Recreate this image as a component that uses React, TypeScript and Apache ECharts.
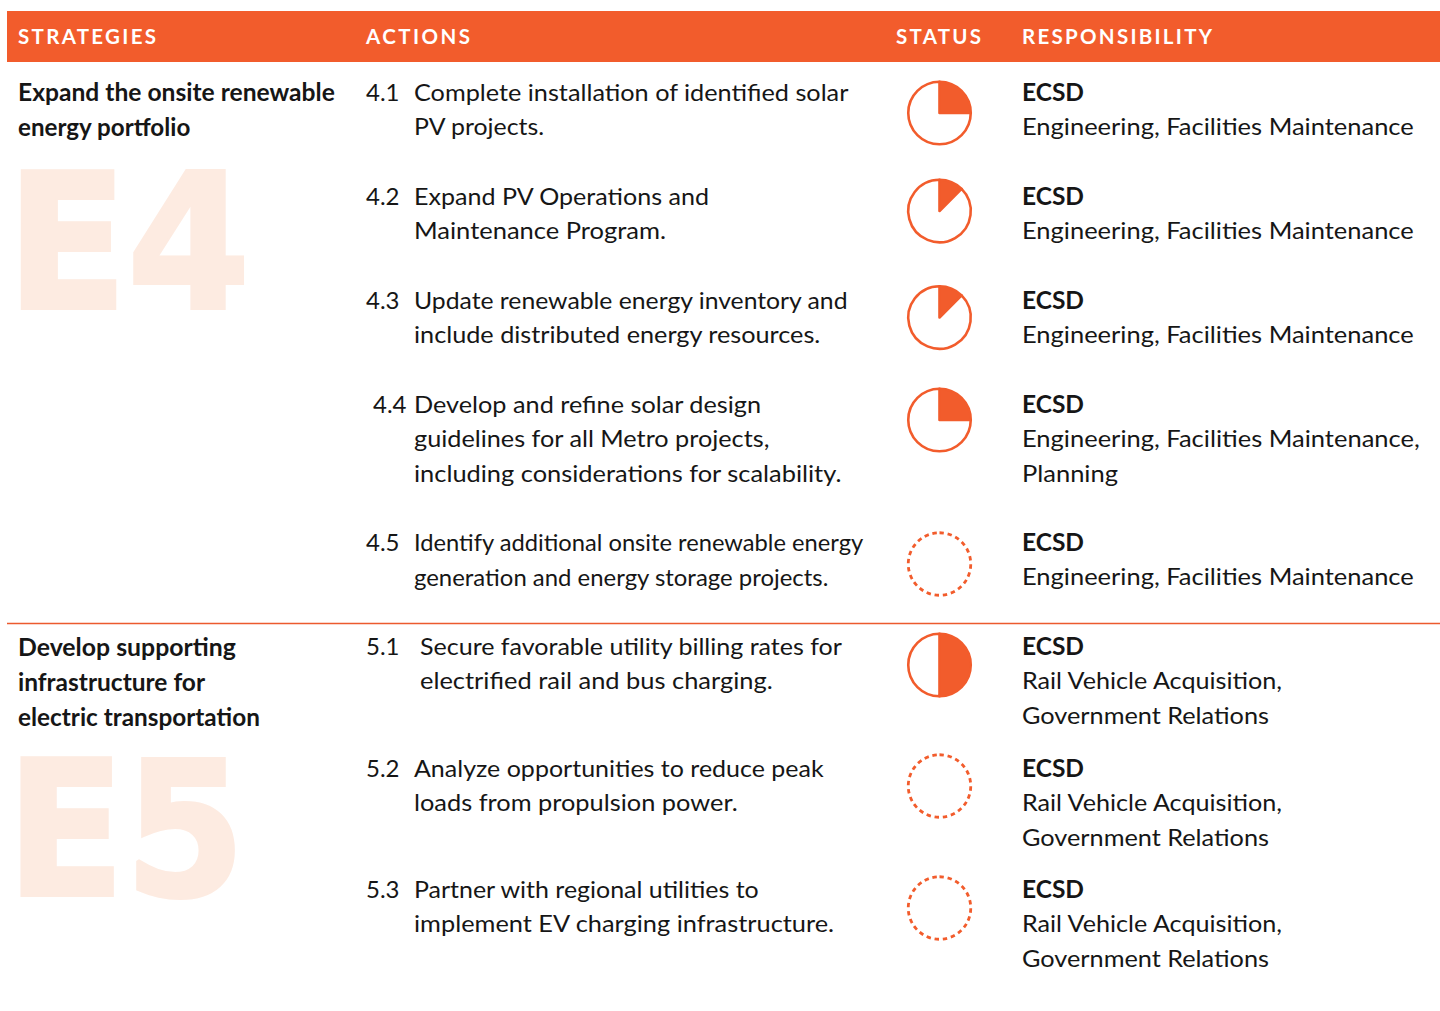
import React, { useEffect, useRef } from "react";
import * as echarts from "echarts";

const headers = ["STRATEGIES", "ACTIONS", "STATUS", "RESPONSIBILITY"];
const strategyLines = [
  ["Expand the onsite renewable", "energy portfolio"],
  ["Develop supporting", "infrastructure for", "electric transportation"],
];
const watermarks = ["E4", "E5"];
const actionNumbers = ["4.1", "4.2", "4.3", "4.4", "4.5", "5.1", "5.2", "5.3"];
const actionLines = [
  ["Complete installation of identified solar", "PV projects."],
  ["Expand PV Operations and", "Maintenance Program."],
  ["Update renewable energy inventory and", "include distributed energy resources."],
  ["Develop and refine solar design", "guidelines for all Metro projects,", "including considerations for scalability."],
  ["Identify additional onsite renewable energy", "generation and energy storage projects."],
  ["Secure favorable utility billing rates for", "electrified rail and bus charging."],
  ["Analyze opportunities to reduce peak", "loads from propulsion power."],
  ["Partner with regional utilities to", "implement EV charging infrastructure."],
];
const owner = "ECSD";
const responsibilityLines = [
  ["Engineering, Facilities Maintenance"],
  ["Engineering, Facilities Maintenance"],
  ["Engineering, Facilities Maintenance"],
  ["Engineering, Facilities Maintenance,", "Planning"],
  ["Engineering, Facilities Maintenance"],
  ["Rail Vehicle Acquisition,", "Government Relations"],
  ["Rail Vehicle Acquisition,", "Government Relations"],
  ["Rail Vehicle Acquisition,", "Government Relations"],
];
const statusPercent = [25, 12.5, 12.5, 25, 0, 50, 0, 0];

const ORANGE = "#F25C2C";
const INK = "#161616";
const PALE = "#FDEBE1";
const FONT = "Lato";

// layout only
const rowY = [91.5, 195.5, 299.5, 403.5, 541.5, 645.5, 767.5, 888.5];
const lineStep = 34.6;
const statusY = [113, 211, 317.5, 420, 564, 665, 786, 908];
const numberX = [366, 366, 366, 373, 366, 366, 366, 366];
const actionX = [414, 414, 414, 414, 414, 420, 414, 414];
const actionRight = [
  [849, 545],
  [710, 666],
  [849, 821],
  [762, 770, 842],
  [864, 829],
  [843, 773],
  [824, 738],
  [760, 835],
];
const respRight: Record<string, number> = {
  "Engineering, Facilities Maintenance": 1414,
  "Engineering, Facilities Maintenance,": 1420,
  Planning: 1118,
  "Rail Vehicle Acquisition,": 1284,
  "Government Relations": 1269,
};
const strategyRight = [
  [335, 191],
  [236, 205, 260],
];
const strategyY = [
  [91.5, 126],
  [646, 681, 716],
];
const headerX = [18, 366, 896, 1022];
const headerRight = [156, 470, 981, 1212];

const ctx = document.createElement("canvas").getContext("2d")!;
function measure(text: string, fontSize: number, fontWeight: any, family = FONT) {
  ctx.font = `${fontWeight} ${fontSize}px ${family}`;
  return ctx.measureText(text).width;
}

function txt(text: string, x: number, y: number, fontSize: number, fontWeight: any = 400, fill = INK, right?: number) {
  const scaleX = right ? (right - x) / measure(text, fontSize, fontWeight) : 1;
  return {
    type: "text",
    x,
    y,
    scaleX,
    silent: true,
    style: { text, x: 0, y: 0, fill, fontFamily: FONT, fontSize, fontWeight, textVerticalAlign: "middle", textBaseline: "middle" },
  };
}

export default function App() {
  const ref = useRef<HTMLDivElement>(null);
  useEffect(() => {
    const chart = echarts.init(ref.current!, undefined, { renderer: "svg" });
    const elements: any[] = [
      { type: "rect", shape: { x: 7, y: 11, width: 1433, height: 51 }, style: { fill: ORANGE }, silent: true },
      { type: "rect", shape: { x: 7, y: 622.8, width: 1433, height: 1.4 }, style: { fill: "#EC5A2E" }, silent: true },
    ];
    headers.forEach((h, i) => elements.push(txt(h, headerX[i], 36, 20.5, 700, "#FFFFFF")));
    strategyLines.forEach((lines, s) =>
      lines.forEach((l, i) => elements.push(txt(l, 18, strategyY[s][i], 25, 700, INK, strategyRight[s][i])))
    );
    const markY = [243, 830];
    const markScale = [0.945, 0.925];
    watermarks.forEach((m, i) => {
      elements.unshift({
        type: "text",
        x: 6.5,
        y: markY[i],
        scaleX: markScale[i],
        silent: true,
        style: {
          text: m,
          x: 0,
          y: 0,
          fill: PALE,
          stroke: PALE,
          lineWidth: 4,
          fontFamily: "DejaVu Sans",
          fontSize: 187,
          fontWeight: 700,
          textBaseline: "middle",
          textVerticalAlign: "middle",
        },
      });
    });
    actionNumbers.forEach((n, i) => {
      elements.push(txt(n, numberX[i], rowY[i], 24));
      actionLines[i].forEach((l, j) => elements.push(txt(l, actionX[i], rowY[i] + j * lineStep, 24, 400, INK, actionRight[i][j])));
      elements.push(txt(owner, 1022, rowY[i], 24, 700, INK, 1084));
      responsibilityLines[i].forEach((l, j) => elements.push(txt(l, 1022, rowY[i] + (j + 1) * lineStep, 24, 400, INK, respRight[l])));
    });

    const series = statusPercent.map((p, i) => ({
      type: "pie",
      silent: true,
      animation: false,
      center: [939.5, statusY[i]],
      radius: [0, 31.25],
      startAngle: 90,
      clockwise: true,
      label: { show: false },
      labelLine: { show: false },
      emphasis: { disabled: true },
      data:
        p > 0
          ? [
              { value: p, itemStyle: { color: ORANGE, borderColor: ORANGE, borderWidth: 2.6 } },
              { value: 100 - p, itemStyle: { color: "#FFFFFF", borderColor: ORANGE, borderWidth: 2.6 } },
            ]
          : [{ value: 100, itemStyle: { color: "#FFFFFF", borderColor: ORANGE, borderWidth: 2.8, borderType: [4.4, 3.8] } }],
    }));

    chart.setOption({ animation: false, backgroundColor: "#FFFFFF", graphic: { elements }, series });

    ref.current!.querySelectorAll("text").forEach((t) => {
      const i = headers.indexOf(t.textContent || "");
      if (i >= 0) {
        const spacing = (headerRight[i] - headerX[i] - measure(headers[i], 20.5, 700)) / (headers[i].length - 1);
        t.style.letterSpacing = `${spacing}px`;
      }
    });
    return () => chart.dispose();
  }, []);
  return <div ref={ref} style={{ position: "absolute", left: 0, top: 0, width: 1440, height: 1011 }} />;
}
